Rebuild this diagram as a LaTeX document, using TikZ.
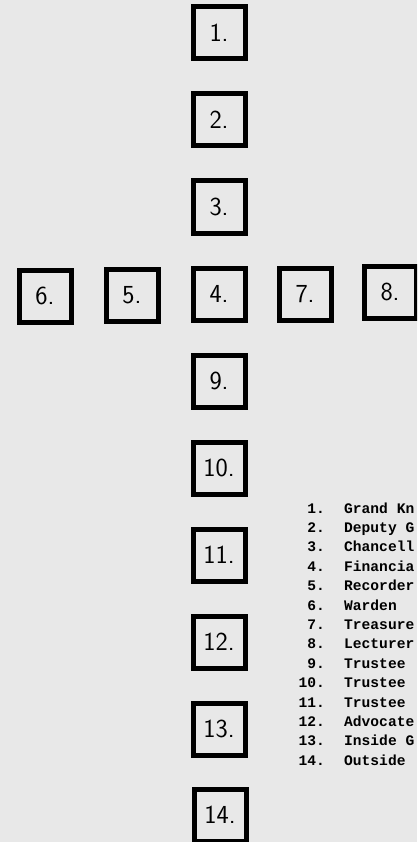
\documentclass[tikz,border=0pt]{standalone}
\usepackage{fontspec}
\newfontfamily\legendfont{Liberation Mono}
\begin{document}
\begin{tikzpicture}[x=1pt,y=-1pt,
  officer/.style={draw=black, line width=5pt, minimum width=52pt, minimum height=52pt,
    inner sep=0pt, font=\sffamily\fontsize{26}{26}\selectfont},
  legnum/.style={anchor=base east, inner sep=0pt, font=\legendfont\bfseries\fontsize{14.6}{15}\selectfont},
  legtext/.style={anchor=base west, inner sep=0pt, font=\legendfont\bfseries\fontsize{14.6}{15}\selectfont}]
\clip (0,0) rectangle (417,842);
\fill[black!9] (0,0) rectangle (417,842);
% vertical column
\node[officer] (b1)  at (219,33)  {1.};
\node[officer] (b2)  at (219,120) {2.};
\node[officer] (b3)  at (219,207) {3.};
\node[officer] (b4)  at (219,294) {4.};
\node[officer] (b9)  at (219,381) {9.};
\node[officer] (b10) at (219,468) {10.};
\node[officer] (b11) at (219,555) {11.};
\node[officer] (b12) at (219,642) {12.};
\node[officer] (b13) at (219,729) {13.};
\node[officer] (b14) at (220,815) {14.};
% horizontal row
\node[officer] (b6) at (45,296)  {6.};
\node[officer] (b5) at (132,295) {5.};
\node[officer] (b7) at (305,294) {7.};
\node[officer] (b8) at (390,292) {8.};
% legend (cut off at the right edge, as printed)
\foreach \i/\t in {1/Grand Kn,2/Deputy G,3/Chancell,4/Financia,
  5/Recorder,6/Warden,7/Treasure,8/Lecturer,9/Trustee,10/Trustee,11/Trustee,
  12/Advocate,13/Inside G,14/Outside}{
  \node[legnum]  (n\i) at (325,{513+19.4*(\i-1)}) {\i.};
  \node[legtext] (l\i) at (344,{513+19.4*(\i-1)}) {\t};
}
\end{tikzpicture}
\end{document}
